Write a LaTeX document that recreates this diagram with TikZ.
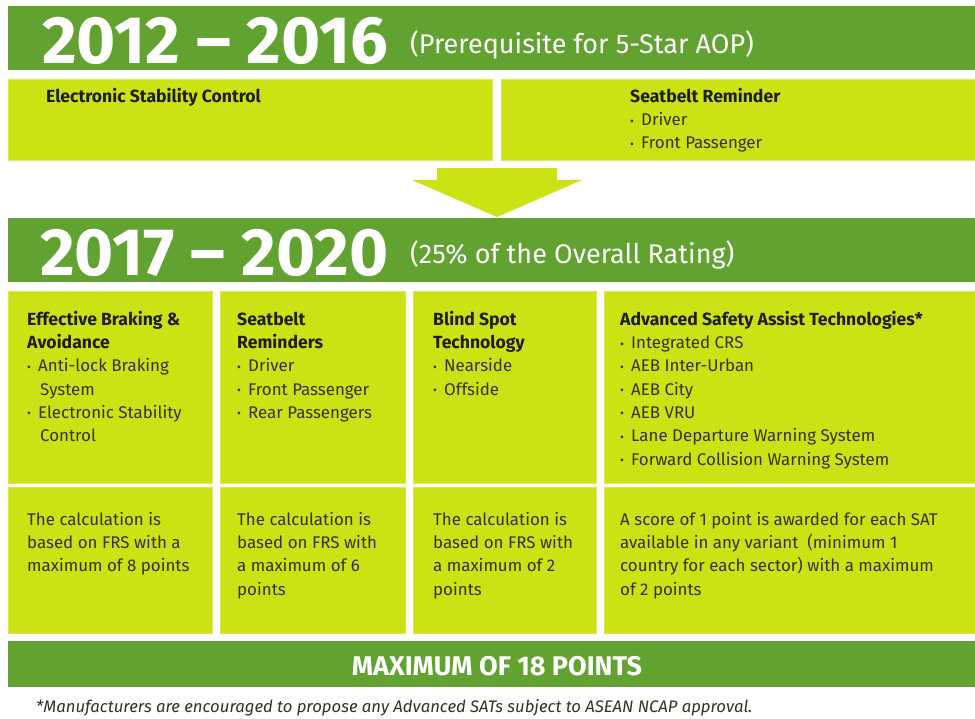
\documentclass[tikz,border=0pt]{standalone}
\usepackage{fontspec}
\setmainfont{Fira Sans}
\usetikzlibrary{positioning}

\definecolor{darkgreen}{HTML}{62A231}
\definecolor{lime}{HTML}{CDE215}
\definecolor{ink}{HTML}{33331E}
\definecolor{head}{HTML}{1E1E14}

\newcommand{\fl}{\rule{0pt}{16pt}}
\newcommand{\blt}{\makebox[11pt][l]{\raisebox{0.5pt}{\fontsize{12}{12}\selectfont •}}}
\newcommand{\hng}{\hspace*{13pt}}
\newcommand{\hd}[1]{{\fontsize{17.6}{23.3}\selectfont\bfseries\color{head}#1}}

\tikzset{
  bar/.style={fill=darkgreen, draw=none, anchor=north west, inner sep=0pt},
  box/.style={fill=lime, draw=lime!75!white, line width=0.6pt, anchor=north west, inner sep=0pt},
  txt/.style={anchor=north west, inner sep=0pt, align=left, text=ink,
    font=\fontsize{16.9}{23.3}\selectfont},
  year/.style={anchor=base west, inner sep=0pt, text=white,
    font=\fontsize{67}{67}\selectfont\bfseries},
  sub/.style={anchor=base west, inner sep=0pt, text=white,
    font=\fontsize{27}{27}\selectfont},
}

\begin{document}
\begin{tikzpicture}[x=1pt, y=-1pt]
\useasboundingbox[fill=white] (0,0) rectangle (975,718);

% first period
\path (8,6) node[bar, minimum width=967, minimum height=64] (bar1) {};
\path (42,63) node[year] (y1) {2012 – 2016};
\path (410,53) node[sub] (s1) {(Prerequisite for 5-Star AOP)};

\path (8,79) node[box, minimum width=484, minimum height=81] (esc) {};
\path (501,79) node[box, minimum width=474, minimum height=81] (sbr) {};
\path (46,86) node[txt] (tesc) {\fl\hd{Electronic Stability Control}};
\path (630,86) node[txt] (tsbr) {\fl\hd{Seatbelt Reminder}\\\blt Driver\\\blt Front Passenger};

% arrow down
\fill[lime] (437,168) -- (557,168) -- (557,180) -- (582,180) -- (497,217)
  -- (412,180) -- (437,180) -- cycle;

% second period
\path (8,218) node[bar, minimum width=967, minimum height=64] (bar2) {};
\path (40,275) node[year] (y2) {2017 – 2020};
\path (410,263) node[sub] (s2) {(25\% of the Overall Rating)};

\foreach \l/\r/\n in {8/212/1, 220/405/2, 413/596/3, 604/975/4}
{
  \path (\l,291) node[box, minimum width=\r-\l, minimum height=192] (up\n) {};
  \path (\l,487) node[box, minimum width=\r-\l, minimum height=146] (lo\n) {};
}

\path (27,309) node[txt] (tup1) {\fl\hd{Effective Braking \&}\\\hd{Avoidance}\\
  \blt Anti-lock Braking\\\hng System\\\blt Electronic Stability\\\hng Control};
\path (237,309) node[txt] (tup2) {\fl\hd{Seatbelt}\\\hd{Reminders}\\
  \blt Driver\\\blt Front Passenger\\\blt Rear Passengers};
\path (433,309) node[txt] (tup3) {\fl\hd{Blind Spot}\\\hd{Technology}\\
  \blt Nearside\\\blt Offside};
\path (620,309) node[txt] (tup4) {\fl\hd{Advanced Safety Assist Technologies*}\\
  \blt Integrated CRS\\\blt AEB Inter-Urban\\\blt AEB City\\\blt AEB VRU\\
  \blt Lane Departure Warning System\\\blt Forward Collision Warning System};

\path (27,509) node[txt] (tlo1) {\fl The calculation is\\based on FRS with a\\maximum of 8 points};
\path (237,509) node[txt] (tlo2) {\fl The calculation is\\based on FRS with\\a maximum of 6\\points};
\path (433,509) node[txt] (tlo3) {\fl The calculation is\\based on FRS with\\a maximum of 2\\points};
\path (620,509) node[txt] (tlo4) {\fl A score of 1 point is awarded for each SAT\\
  available in any variant~ (minimum 1\\country for each sector) with a maximum\\of 2 points};

% total
\path (8,641) node[bar, minimum width=967, minimum height=46] (bar3) {};
\path (497,675) node[anchor=base, inner sep=0pt, text=white,
  font=\fontsize{27}{27}\selectfont\bfseries] (total) {MAXIMUM OF 18 POINTS};

\path (36,712) node[anchor=base west, inner sep=0pt, text=ink,
  font=\fontsize{16.7}{18}\selectfont\itshape] (note)
  {*Manufacturers are encouraged to propose any Advanced SATs subject to ASEAN NCAP approval.};
\end{tikzpicture}
\end{document}
